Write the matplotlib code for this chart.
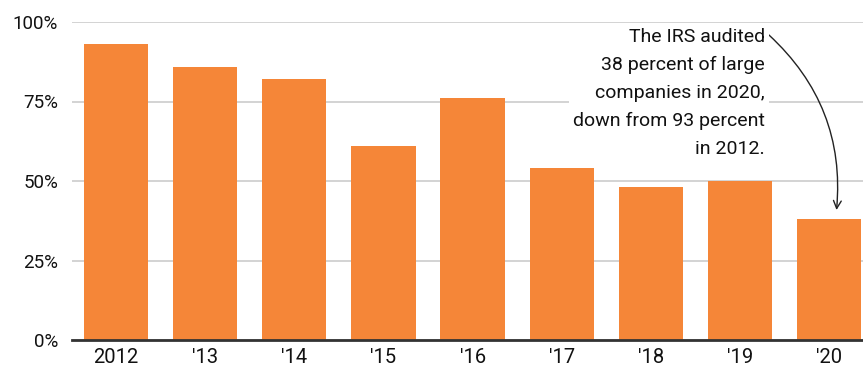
import matplotlib.pyplot as plt

plt.rcParams['font.family'] = ['Roboto', 'DejaVu Sans']

years = ["2012", "'13", "'14", "'15", "'16", "'17", "'18", "'19", "'20"]
audit_rate = [93, 86, 82, 61, 76, 54, 48, 50, 38]
y_ticks = [0, 25, 50, 75, 100]
y_labels = ["0%", "25%", "50%", "75%", "100%"]
note = ("The IRS audited\n38 percent of large\ncompanies in 2020,\n"
        "down from 93 percent\nin 2012.")

ORANGE = "#F58638"

fig = plt.figure(figsize=(8.63, 3.70), dpi=100)
ax = fig.add_axes([72 / 863, 30 / 370, 791 / 863, 318 / 370])

x = range(len(years))
ax.bar(x, audit_rate, width=0.72, color=ORANGE, zorder=2)

ax.set_ylim(0, 100)
ax.set_xlim(-0.494, 8.38)
ax.set_yticks(y_ticks)
ax.set_yticklabels(y_labels)
ax.set_xticks(list(x))
ax.set_xticklabels(years)
ax.tick_params(axis="both", length=0, colors="#111111")
ax.tick_params(axis="y", pad=10, labelsize=13.5)
ax.tick_params(axis="x", pad=6, labelsize=14.5)

ax.grid(axis="y", color="#cccccc", linewidth=1.2, zorder=0)
for s in ("top", "right", "left"):
    ax.spines[s].set_visible(False)
ax.spines["bottom"].set_color("#333333")
ax.spines["bottom"].set_linewidth(2)
ax.spines["bottom"].set_zorder(3)

ax.annotate(note, xy=(8.08, 40), xytext=(7.28, 98),
            ha="right", va="top", fontsize=14, linespacing=1.7,
            color="#111111", zorder=4,
            bbox=dict(boxstyle="square,pad=0.2", fc="white", ec="none"),
            arrowprops=dict(arrowstyle="->", color="#222222", lw=1,
                            connectionstyle="arc3,rad=-0.25",
                            shrinkA=0, shrinkB=2,
                            relpos=(1.02, 0.95)))

fig.savefig("out.png", dpi=100)
